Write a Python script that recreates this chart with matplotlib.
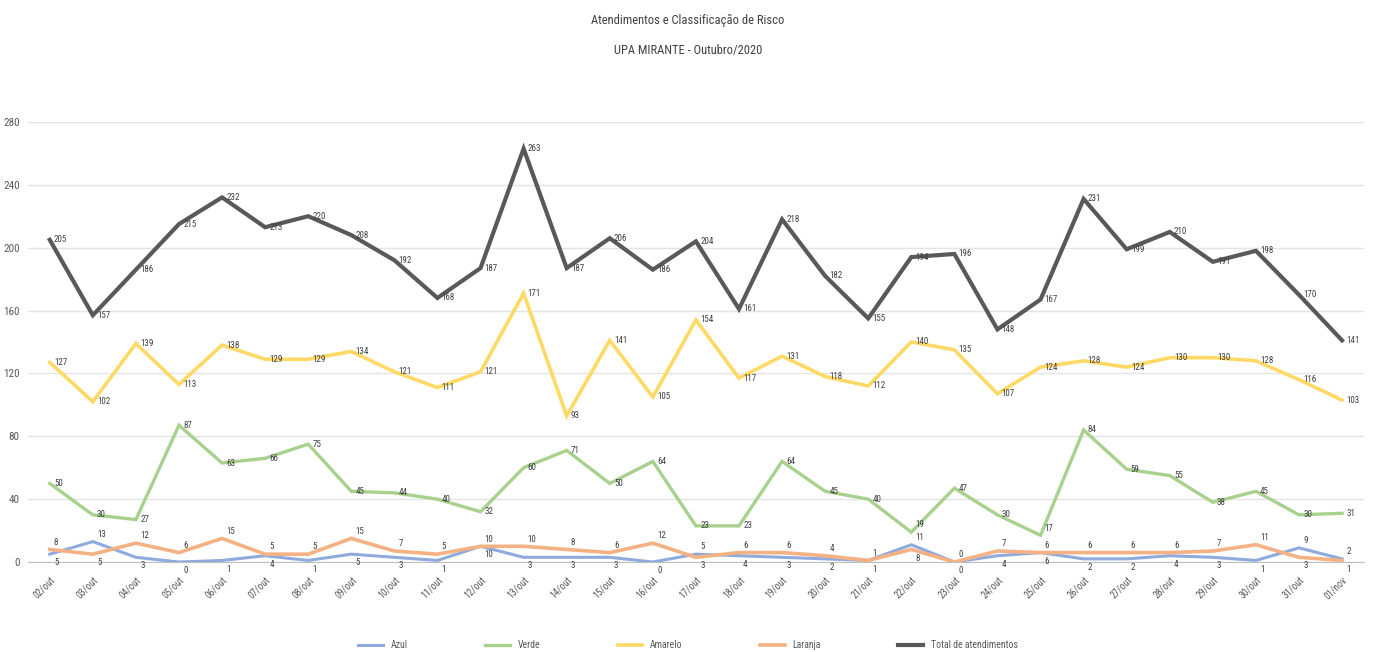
import matplotlib
matplotlib.use("Agg")
import matplotlib.pyplot as plt
from matplotlib import font_manager

dias = ["02/out", "03/out", "04/out", "05/out", "06/out", "07/out", "08/out", "09/out",
        "10/out", "11/out", "12/out", "13/out", "14/out", "15/out", "16/out", "17/out",
        "18/out", "19/out", "20/out", "21/out", "22/out", "23/out", "24/out", "25/out",
        "26/out", "27/out", "28/out", "29/out", "30/out", "31/out", "01/nov"]

azul = [5, 13, 3, 0, 1, 4, 1, 5, 3, 1, 10, 3, 3, 3, 0, 5, 4, 3, 2, 1, 11, 0, 4, 6, 2, 2, 4, 3, 1, 9, 2]
verde = [50, 30, 27, 87, 63, 66, 75, 45, 44, 40, 32, 60, 71, 50, 64, 23, 23, 64, 45, 40, 19, 47, 30, 17, 84, 59, 55, 38, 45, 30, 31]
amarelo = [127, 102, 139, 113, 138, 129, 129, 134, 121, 111, 121, 171, 93, 141, 105, 154, 117, 131, 118, 112, 140, 135, 107, 124, 128, 124, 130, 130, 128, 116, 103]
laranja = [8, 5, 12, 6, 15, 5, 5, 15, 7, 5, 10, 10, 8, 6, 12, 3, 6, 6, 4, 1, 8, 0, 7, 6, 6, 6, 6, 7, 11, 3, 1]
total = [205, 157, 186, 215, 232, 213, 220, 208, 192, 168, 187, 263, 187, 206, 186, 204, 161, 218, 182, 155, 194, 196, 148, 167, 231, 199, 210, 191, 198, 170, 141]

series_names = ["Azul", "Verde", "Amarelo", "Laranja", "Total de atendimentos"]
title_lines = ["Atendimentos e Classificação de Risco", "UPA MIRANTE - Outubro/2020"]

names = {f.name for f in font_manager.fontManager.ttflist}
fam = "DejaVu Sans"
for cand in ["Liberation Sans Narrow", "Roboto Condensed", "DejaVu Sans Condensed", "Liberation Sans"]:
    if cand in names:
        fam = cand
        break
plt.rcParams["font.family"] = [fam, "DejaVu Sans"]

fig = plt.figure(figsize=(13.76, 6.52), dpi=100)
ax = fig.add_axes([0.0205, 0.138, 0.9705, 0.675])

x = list(range(len(dias)))
colors = ["#8FAADC", "#A9D18E", "#FFD966", "#F4B183", "#595959"]
widths = [2.2, 2.4, 2.6, 2.6, 3.0]
all_series = [azul, verde, amarelo, laranja, total]

handles = []
for vals, col, lw, name in zip(all_series, colors, widths, series_names):
    h, = ax.plot(x, vals, color=col, lw=lw, label=name, solid_joinstyle="miter", zorder=3)
    handles.append(h)


def label(xi, v, pos):
    if pos == "above":
        off, va = (3, 2), "bottom"
    elif pos == "below":
        off, va = (3, -3), "top"
    else:
        off, va = (3, 0), "center"
    ax.annotate(str(v), (xi, v), xytext=off, textcoords="offset points",
                ha="left", va=va, fontsize=6.5, color="#404040", zorder=4)


for xi in x:
    for vals in (amarelo, total):
        label(xi, vals[xi], "center")
    a, l = azul[xi], laranja[xi]
    label(xi, verde[xi], "above" if verde[xi] - max(a, l) < 12 else "center")
    if a > l:
        label(xi, a, "above")
        label(xi, l, "below")
    else:
        label(xi, a, "below")
        label(xi, l, "above")

ax.set_ylim(0, 280)
ax.set_xlim(-0.5, len(dias) - 0.5)
ax.set_yticks(range(0, 281, 40))
ax.set_xticks(x)
ax.set_xticklabels(dias, rotation=45, ha="right", rotation_mode="anchor")
ax.tick_params(axis="x", labelsize=7, colors="#595959", length=0, pad=9)
ax.tick_params(axis="y", labelsize=8, colors="#595959", length=0, pad=6)
ax.grid(axis="y", color="#E4E4E4", lw=1.0, zorder=0)
for s in ["top", "right", "left"]:
    ax.spines[s].set_visible(False)
ax.spines["bottom"].set_color("#BFBFBF")

fig.text(0.5, 0.968, title_lines[0], ha="center", va="center", fontsize=9, color="#404040")
fig.text(0.5, 0.922, title_lines[1], ha="center", va="center", fontsize=9, color="#404040")

fig.legend(handles=handles, labels=series_names, loc="center", bbox_to_anchor=(0.5, 0.01),
           ncol=5, frameon=False, fontsize=7, columnspacing=8, handlelength=2.5,
           labelcolor="#595959")

fig.savefig("out.png", dpi=100, facecolor="white")
